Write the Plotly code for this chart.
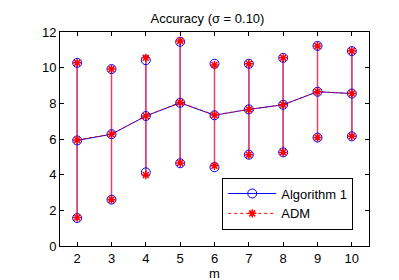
import plotly.graph_objects as go

m = [2, 3, 4, 5, 6, 7, 8, 9, 10]
alg_mean = [5.92, 6.27, 7.29, 8.03, 7.33, 7.66, 7.92, 8.65, 8.55]
alg_high = [10.27, 9.92, 10.42, 11.45, 10.22, 10.22, 10.55, 11.22, 10.93]
alg_low = [1.57, 2.60, 4.13, 4.64, 4.42, 5.12, 5.25, 6.08, 6.15]
adm_mean = [5.95, 6.27, 7.29, 8.05, 7.35, 7.66, 7.92, 8.65, 8.55]
adm_high = [10.27, 9.92, 10.55, 11.50, 10.15, 10.22, 10.55, 11.22, 10.93]
adm_low = [1.60, 2.60, 3.98, 4.66, 4.50, 5.12, 5.25, 6.08, 6.15]

BLUE = "#0000ff"
RED = "#ff0000"

def segs(xs, lo, hi):
    X, Y = [], []
    for x, a, b in zip(xs, lo, hi):
        X += [x, x, None]
        Y += [a, b, None]
    return X, Y

fig = go.Figure()

ax, ay = segs(m, alg_low, alg_high)
fig.add_trace(go.Scatter(x=ax, y=ay, mode="lines", line=dict(color=BLUE, width=1),
                         showlegend=False, hoverinfo="skip"))
dx, dy = segs(m, adm_low, adm_high)
fig.add_trace(go.Scatter(x=dx, y=dy, mode="lines", line=dict(color="#f04060", width=1.5),
                         showlegend=False, hoverinfo="skip"))

for ys in (alg_high, alg_low):
    fig.add_trace(go.Scatter(x=m, y=ys, mode="markers",
                             marker=dict(symbol="circle-open", size=9, color=BLUE, line=dict(width=1)),
                             showlegend=False, hoverinfo="skip"))
fig.add_trace(go.Scatter(x=m, y=alg_mean, mode="lines+markers", name="Algorithm 1",
                         line=dict(color=BLUE, width=1),
                         marker=dict(symbol="circle-open", size=9, color=BLUE, line=dict(width=1))))

for ys in (adm_high, adm_low):
    fig.add_trace(go.Scatter(x=m, y=ys, mode="markers",
                             marker=dict(symbol="asterisk-open", size=7, color=RED, line=dict(width=1.5, color=RED)),
                             showlegend=False, hoverinfo="skip"))
fig.add_trace(go.Scatter(x=m, y=adm_mean, mode="lines+markers", name="ADM",
                         line=dict(color=RED, width=1, dash="dot"),
                         marker=dict(symbol="asterisk-open", size=7, color=RED, line=dict(width=1.5, color=RED))))

axis_common = dict(showgrid=False, zeroline=False, showline=True, linecolor="black", linewidth=1,
                   mirror="ticks", ticks="inside", ticklen=4, tickcolor="black",
                   tickfont=dict(size=13, color="black"))

fig.update_layout(
    width=399, height=280,
    margin=dict(l=52, r=38, t=24, b=37),
    paper_bgcolor="white", plot_bgcolor="white",
    font=dict(family="Liberation Sans, Arial, sans-serif", size=13, color="black"),
    title=dict(text="Accuracy (σ = 0.10)", x=0.5, xanchor="center", y=0.963, yanchor="middle",
               font=dict(size=13)),
    xaxis=dict(range=[1.5, 10.5], tickvals=m, title=dict(text="m", standoff=1, font=dict(size=13)),
               **axis_common),
    yaxis=dict(range=[0, 12], tickvals=[0, 2, 4, 6, 8, 10, 12], **axis_common),
    legend=dict(x=0.525, y=0.32, xanchor="left", yanchor="top", bgcolor="white",
                bordercolor="black", borderwidth=1, font=dict(size=13),
                tracegroupgap=0, itemwidth=48),
    showlegend=True,
)

fig.write_html("out.html")
